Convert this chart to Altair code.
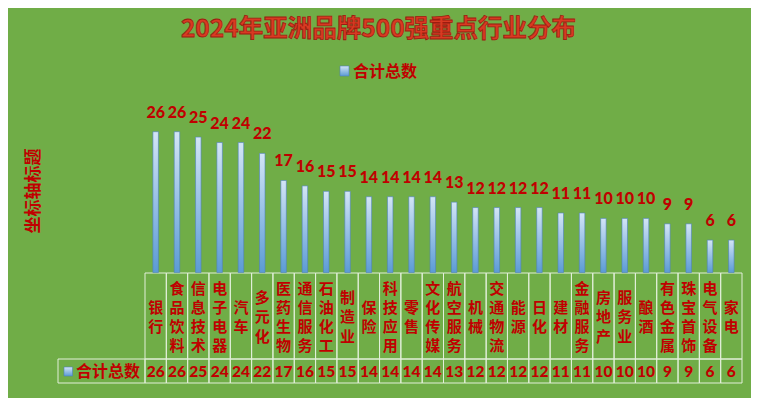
import altair as alt
import pandas as pd

categories = ["银行", "食品饮料", "信息技术", "电子电器", "汽车", "多元化", "医药生物", "通信服务",
              "石油化工", "制造业", "保险", "科技应用", "零售", "文化传媒", "航空服务", "机械",
              "交通物流", "能源", "日化", "建材", "金融服务", "房地产", "服务业", "酿酒",
              "有色金属", "珠宝首饰", "电气设备", "家电"]
values = [26, 26, 25, 24, 24, 22, 17, 16, 15, 15, 14, 14, 14, 14, 13, 12, 12, 12, 12, 11, 11,
          10, 10, 10, 9, 9, 6, 6]
series_name = "合计总数"
title_text = "2024年亚洲品牌500强重点行业分布"
y_title = "坐标轴标题"

df = pd.DataFrame({"cat": categories, "value": values})
df["vlabel"] = ["\n".join(list(c)) for c in categories]
df["n"] = [len(c) for c in categories]

RED = "#C00000"
GRID = "#E2EFDA"
CJK = "Noto Sans CJK SC"
NUM = "Lato"


def grad():
    return alt.Gradient(
        gradient="linear",
        stops=[alt.GradientStop(color="#D3E5F6", offset=0),
               alt.GradientStop(color="#5B9BD5", offset=1)],
        x1=0, x2=0, y1=0, y2=1)


xs = alt.Scale(domain=categories, range=[137, 734], paddingInner=0, paddingOuter=0)
ys = alt.Scale(domain=[0, 26], range=[264.6, 123.7], zero=True, nice=False)
X = alt.X("cat:N", scale=xs, axis=None, sort=None)
Y = alt.Y("value:Q", scale=ys, axis=None)

base = alt.Chart(df)

bars = base.mark_bar(size=5.5, color=grad(), stroke="#4F81BD", strokeWidth=0.6).encode(x=X, y=Y)
labels = base.mark_text(font=NUM, fontWeight=900, fontSize=16, color=RED,
                        baseline="alphabetic", dy=-14).encode(x=X, y=Y, text="value:Q")

cat_cells = base.mark_rect(fillOpacity=0, stroke=GRID, strokeWidth=1).encode(
    x=X, y=alt.value(265), y2=alt.value(351))
val_cells = base.mark_rect(fillOpacity=0, stroke=GRID, strokeWidth=1).encode(
    x=X, y=alt.value(351), y2=alt.value(375))

LH = 19.2
CENTER = 309.5
cat_texts = []
for k in (2, 3, 4):
    cat_texts.append(
        base.transform_filter(alt.datum.n == k).mark_text(
            font=CJK, fontWeight="bold", fontSize=15, color=RED,
            lineBreak="\n", lineHeight=LH, baseline="middle").encode(
            x=X, y=alt.value(CENTER - (k - 1) * LH / 2), text="vlabel:N"))

val_text = base.mark_text(font=NUM, fontWeight=900, fontSize=15.5, color=RED,
                          baseline="middle").encode(x=X, y=alt.value(364), text="value:Q")

one = alt.Chart(pd.DataFrame({"name": [series_name], "title": [title_text], "yt": [y_title]}))
label_cell = one.mark_rect(fillOpacity=0, stroke=GRID, strokeWidth=1).encode(
    x=alt.value(50), x2=alt.value(137), y=alt.value(351), y2=alt.value(375))
label_sq = one.mark_rect(color=grad(), stroke="#4F81BD", strokeWidth=0.6).encode(
    x=alt.value(56), x2=alt.value(64.5), y=alt.value(359), y2=alt.value(368))
label_txt = one.mark_text(font=CJK, fontWeight="bold", fontSize=16, color=RED,
                          align="left", baseline="middle").encode(
    x=alt.value(68), y=alt.value(364), text="name:N")

leg_sq = one.mark_rect(color=grad(), stroke="#4F81BD", strokeWidth=0.6).encode(
    x=alt.value(332), x2=alt.value(341), y=alt.value(58), y2=alt.value(68))
leg_txt = one.mark_text(font=CJK, fontWeight="bold", fontSize=16, color=RED,
                        align="left", baseline="middle").encode(
    x=alt.value(345), y=alt.value(64), text="name:N")

title = one.mark_text(font=CJK, fontWeight="bold", fontSize=24.5, color="#D93A22",
                      stroke="#9C1C10", strokeWidth=0.8, align="center", baseline="middle").encode(
    x=alt.value(370.5), y=alt.value(22), text="title:N")
ytitle = one.mark_text(font=CJK, fontWeight="bold", fontSize=17, color=RED, angle=270,
                       align="center", baseline="middle").encode(
    x=alt.value(25.5), y=alt.value(183), text="yt:N")

chart = alt.layer(
    cat_cells, val_cells, label_cell, bars, labels, *cat_texts, val_text,
    label_sq, label_txt, leg_sq, leg_txt, title, ytitle
).properties(
    width=743, height=390,
    autosize=alt.AutoSizeParams(type="none"),
    padding=0,
    background="#70AD47",
).configure_view(stroke=None)

chart.save("out.html", embed_options={"renderer": "svg", "actions": False})
